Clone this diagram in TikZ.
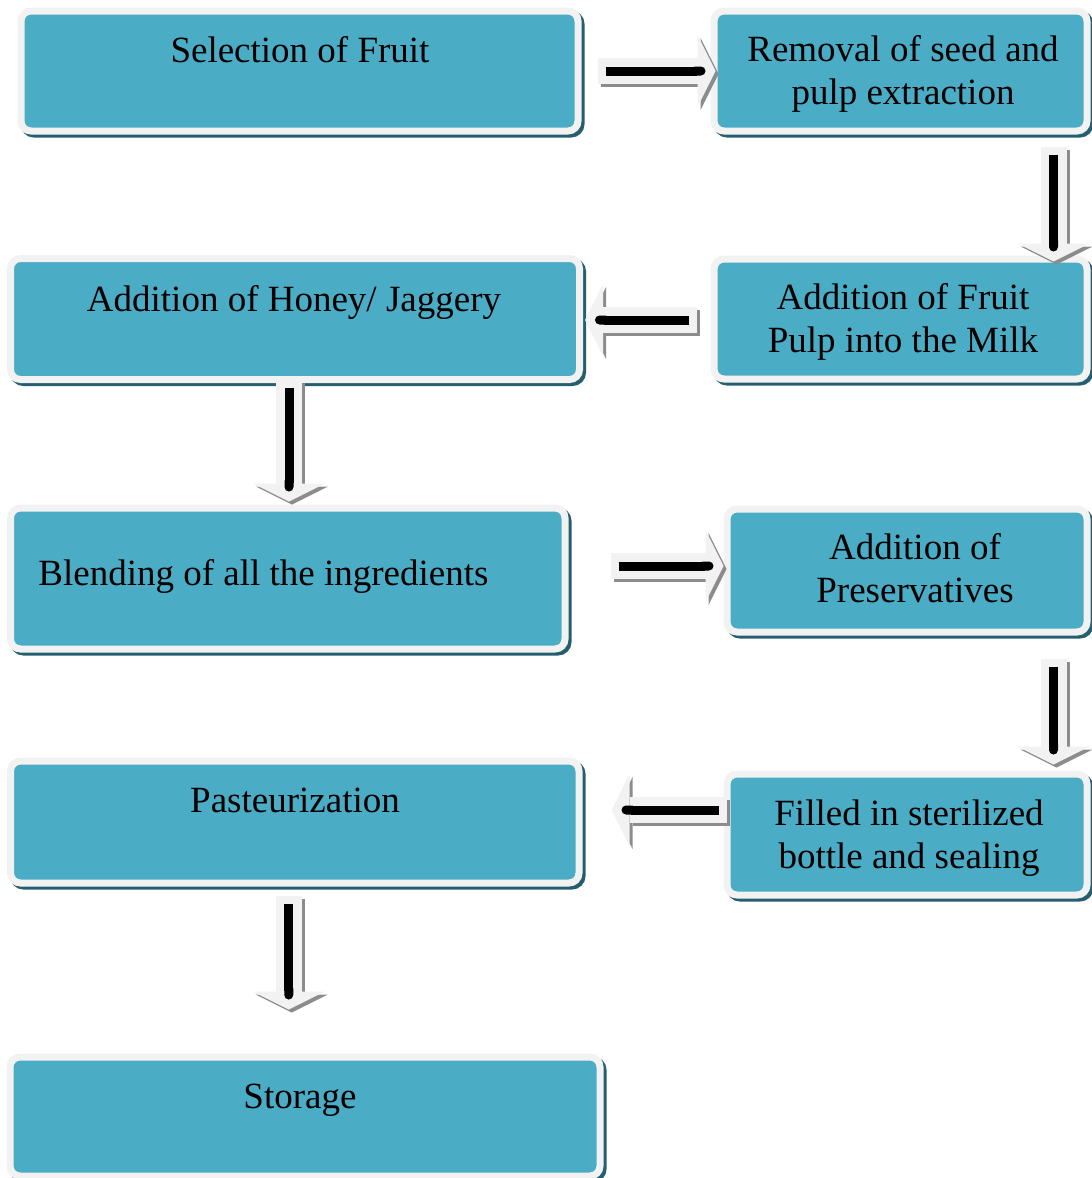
\documentclass[tikz,border=0pt]{standalone}
\usepackage{fontspec}
\setmainfont{Liberation Serif}
\usetikzlibrary{arrows.meta,calc}

\definecolor{boxblue}{HTML}{4BACC6}
\definecolor{boxrim}{HTML}{F2F2F2}
\definecolor{boxshade}{HTML}{255E6E}
\definecolor{flowfill}{HTML}{F2F2F2}
\definecolor{flowshadow}{HTML}{8C8C8C}

\tikzset{
    stepbox/.style={rectangle, rounded corners=5pt, draw=boxrim, line width=3.5pt,
        fill=boxblue, inner sep=0pt,
        preaction={draw=boxshade, fill=boxshade, line width=3.5pt,
            transform canvas={shift={(1.5pt,-1.5pt)}}}},
    steptext/.style={font=\fontsize{18.5}{21.5}\selectfont, align=center, inner sep=0pt},
    flowbody/.style={line width=13pt, draw=flowfill,
        -{Triangle[width=36pt,length=9pt,line width=0pt]}},
    flowshade/.style={flowbody, draw=flowshadow,
        transform canvas={shift={(1.5pt,-1.5pt)}}},
    flowcore/.style={line width=4.5pt, draw=black, -{Round Cap}}
}

\begin{document}
\begin{tikzpicture}[
                        x=0.5pt, y=-0.5pt
                    ]
                    \useasboundingbox (0,0) rectangle (1092,1178);

                    % Blocks
                    \node [stepbox, minimum width=278.5pt, minimum height=60pt] (sel) at (299.5,71) {};
                    \node [stepbox, minimum width=186.5pt, minimum height=60pt] (rem) at (900.5,71) {};
                    \node [stepbox, minimum width=186.5pt, minimum height=60pt] (pulp) at (900.5,319) {};
                    \node [stepbox, minimum width=284.5pt, minimum height=60.5pt] (honey) at (295,319) {};
                    \node [stepbox, minimum width=277.25pt, minimum height=70.5pt] (blend) at (287.75,578.5) {};
                    \node [stepbox, minimum width=180pt, minimum height=61.5pt] (pres) at (907,570.5) {};
                    \node [stepbox, minimum width=180pt, minimum height=60.5pt] (bottle) at (907,834.5) {};
                    \node [stepbox, minimum width=284.25pt, minimum height=61pt] (past) at (294.75,822) {};
                    \node [stepbox, minimum width=295pt, minimum height=59.5pt] (stor) at (305,1116.5) {};

                    % Labels
                    \node [steptext] (sel-t) at (300,49.5) {Selection of Fruit};
                    \node [steptext] (rem-t) at (903,74) {Removal of seed and\\pulp extraction};
                    \node [steptext] (pulp-t) at (903,322) {Addition of Fruit\\Pulp into the Milk};
                    \node [steptext] (honey-t) at (294,302.5) {Addition of Honey/ Jaggery};
                    \node [steptext, anchor=west] (blend-t) at (38,576.5) {Blending of all the ingredients};
                    \node [steptext] (pres-t) at (915,568) {Addition of\\Preservatives};
                    \node [steptext] (past-t) at (295,800.5) {Pasteurization};
                    \node [steptext] (bottle-t) at (909,838) {Filled in sterilized\\bottle and sealing};
                    \node [steptext] (stor-t) at (300,1100.5) {Storage};

                    % Connections
                    \coordinate (a1s) at ($(sel.east)+(16,0)$);
                    \coordinate (a1e) at ($(rem.west)+(5,0)$);
                    \coordinate (a2s) at ($(rem.south east)+(-37,12)$);
                    \coordinate (a2e) at ($(a2s |- pulp.north)+(0,6)$);
                    \coordinate (a3s) at ($(pulp.west)+(-14,1)$);
                    \coordinate (a3e) at ($(a3s -| honey.east)+(2,0)$);
                    \coordinate (a4s) at ($(honey.south)+(-6,-3)$);
                    \coordinate (a4e) at ($(a4s |- blend.north)+(0,-3)$);
                    \coordinate (a5s) at ($(blend.east)+(42,-12.5)$);
                    \coordinate (a5e) at (a5s -| pres.west);
                    \coordinate (a6s) at ($(pres.south east)+(-37,23)$);
                    \coordinate (a6e) at ($(a6s |- bottle.north)+(0,-6)$);
                    \coordinate (a7s) at ($(bottle.west)+(3,-24.5)$);
                    \coordinate (a7e) at ($(a7s -| past.east)+(29,0)$);
                    \coordinate (a8s) at ($(past.south)+(-6,9)$);
                    \coordinate (a8e) at ($(a8s |- stor.north)+(0,-44)$);

                    \foreach \s/\e in {a1s/a1e, a2s/a2e, a3s/a3e, a4s/a4e,
                                       a5s/a5e, a6s/a6e, a7s/a7e, a8s/a8e} {
                        \draw [flowshade] (\s) -- (\e);
                        \draw [flowbody] (\s) -- (\e);
                        \draw [flowcore] ($(\s)!4pt!(\e)$) -- ($(\e)!5pt!(\s)$);
                    }
                \end{tikzpicture}
\end{document}
